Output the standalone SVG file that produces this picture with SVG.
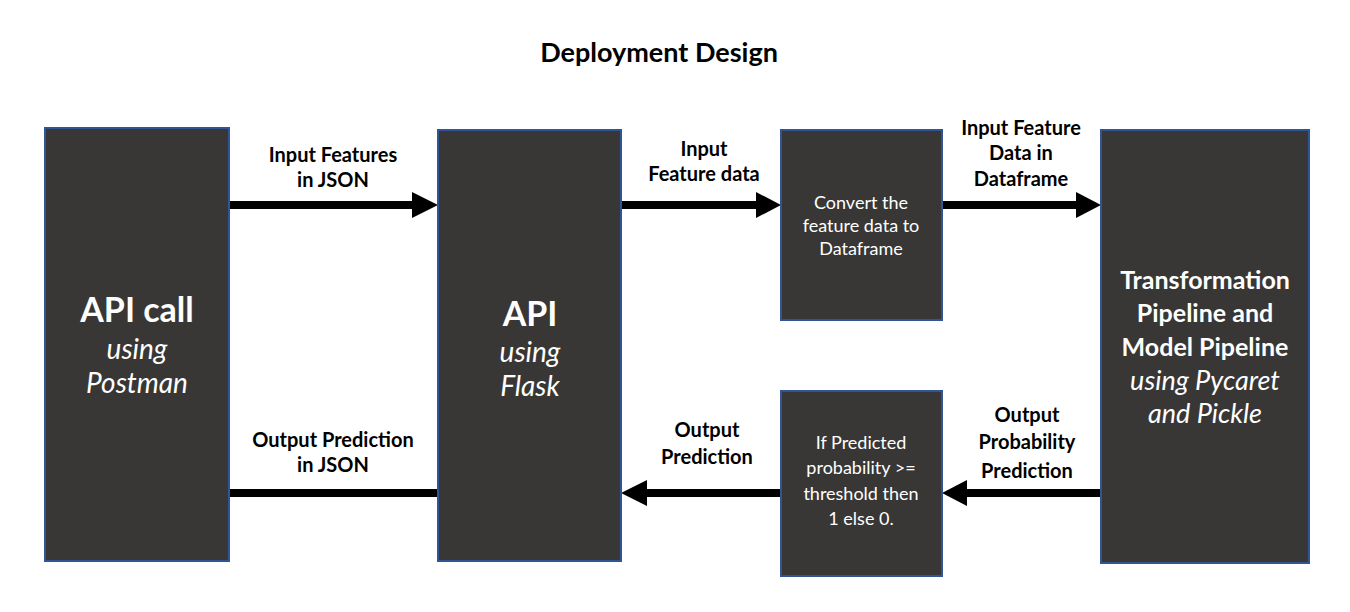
<svg xmlns="http://www.w3.org/2000/svg" width="1350" height="612" viewBox="0 0 1350 612">
<defs>
<style>
.box{fill:#383735;stroke:#2f5597;stroke-width:2}
.wt{fill:#ffffff;font-family:Lato,"Open Sans",sans-serif;text-anchor:middle}
.big{font-size:34px;font-weight:bold}
.it{font-size:28px;font-style:italic}
.med{font-size:25px;font-weight:bold}
.medi{font-size:27px;font-style:italic}
.sm{font-size:18px}
.lbl{fill:#000000;font-family:Lato,"Open Sans",sans-serif;font-size:20px;font-weight:bold;text-anchor:middle}
.title{fill:#000000;font-family:Lato,"Open Sans",sans-serif;font-size:27px;font-weight:bold;text-anchor:middle}
.ln{stroke:#000000;stroke-width:8;fill:none}
</style>
</defs>
<rect width="1350" height="612" fill="#ffffff"/>
<text class="title" x="659" y="62">Deployment Design</text>

<g id="connectors">
<line class="ln" x1="229" y1="205" x2="414" y2="205"/>
<path d="M412,192 L438,205 L412,218 Z" fill="#000"/>
<line class="ln" x1="621" y1="205" x2="758" y2="205"/>
<path d="M756,192 L781,205 L756,218 Z" fill="#000"/>
<line class="ln" x1="942" y1="205" x2="1078" y2="205"/>
<path d="M1076,192 L1101,205 L1076,218 Z" fill="#000"/>
<line class="ln" x1="1101" y1="493" x2="964" y2="493"/>
<path d="M967,480 L942,493 L967,506 Z" fill="#000"/>
<line class="ln" x1="781" y1="493" x2="644" y2="493"/>
<path d="M647,480 L621,493 L647,506 Z" fill="#000"/>
<line class="ln" x1="229" y1="493" x2="438" y2="493"/>
<text class="lbl" x="333" y="162">Input Features</text>
<text class="lbl" x="333" y="187">in JSON</text>
<text class="lbl" x="704" y="156">Input</text>
<text class="lbl" x="704" y="181">Feature data</text>
<text class="lbl" x="1021" y="135">Input Feature</text>
<text class="lbl" x="1021" y="160">Data in</text>
<text class="lbl" x="1021" y="186">Dataframe</text>
<text class="lbl" x="333" y="447">Output Prediction</text>
<text class="lbl" x="333" y="472">in JSON</text>
<text class="lbl" x="707" y="437">Output</text>
<text class="lbl" x="707" y="464">Prediction</text>
<text class="lbl" x="1027" y="422">Output</text>
<text class="lbl" x="1027" y="449">Probability</text>
<text class="lbl" x="1027" y="478">Prediction</text>
</g>

<g id="api-call">
<rect class="box" x="45" y="128" width="184" height="433"/>
<text class="wt big" x="137" y="322">API call</text>
<text class="wt it" x="137" y="359">using</text>
<text class="wt it" x="137" y="393">Postman</text>
</g>

<g id="api">
<rect class="box" x="438" y="130" width="183" height="431"/>
<text class="wt big" x="530" y="326">API</text>
<text class="wt it" x="530" y="362">using</text>
<text class="wt it" x="530" y="396">Flask</text>
</g>

<g id="convert">
<rect class="box" x="781" y="130" width="161" height="190"/>
<text class="wt sm" x="861" y="209">Convert the</text>
<text class="wt sm" x="861" y="232">feature data to</text>
<text class="wt sm" x="861" y="255">Dataframe</text>
</g>

<g id="pipeline">
<rect class="box" x="1101" y="130" width="208" height="433"/>
<text class="wt med" x="1205" y="289">Transformation</text>
<text class="wt med" x="1205" y="322">Pipeline and</text>
<text class="wt med" x="1205" y="356">Model Pipeline</text>
<text class="wt medi" x="1205" y="390">using Pycaret</text>
<text class="wt medi" x="1205" y="423">and Pickle</text>
</g>

<g id="threshold">
<rect class="box" x="781" y="391" width="161" height="185"/>
<text class="wt sm" x="861" y="449">If Predicted</text>
<text class="wt sm" x="861" y="474">probability &gt;=</text>
<text class="wt sm" x="861" y="500">threshold then</text>
<text class="wt sm" x="861" y="525">1 else 0.</text>
</g>
</svg>
